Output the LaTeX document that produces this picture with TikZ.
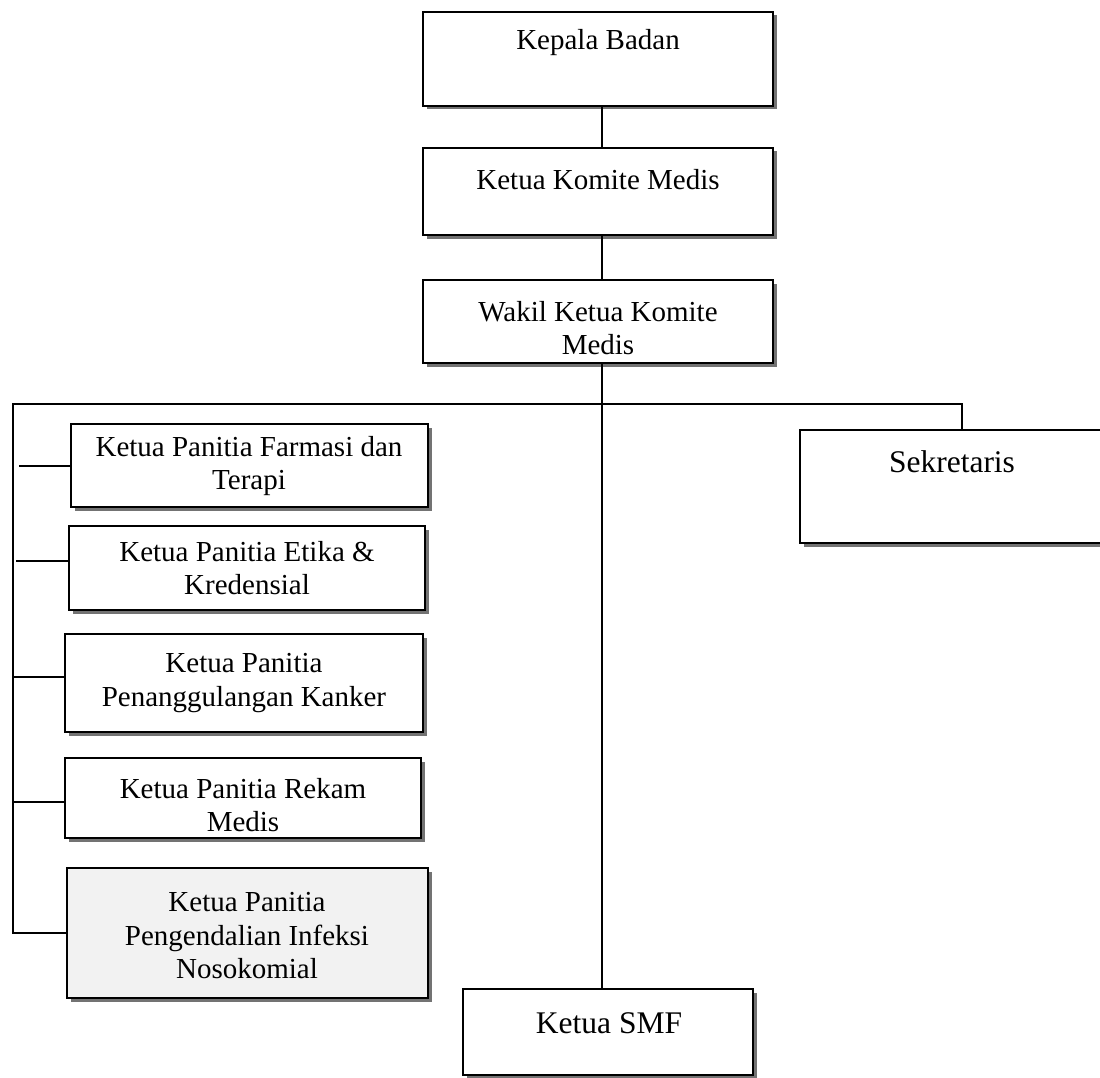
\documentclass[tikz,border=0pt]{standalone}
\usepackage{fontspec}
\setmainfont{Liberation Serif}
\usetikzlibrary{shadows}
\begin{document}
\begin{tikzpicture}[x=1pt,y=-1pt,
  orgbox/.style={draw=black, line width=2.3pt, fill=white, rectangle, inner sep=0pt,
    drop shadow={shadow xshift=3.5pt, shadow yshift=-3.5pt, fill=black!55, opacity=1}},
  boxtext/.style={align=center, inner sep=0pt, font=\fontsize{29}{33.5}\selectfont},
  bigtext/.style={boxtext, font=\fontsize{31.5}{36}\selectfont},
  link/.style={line width=2pt, line cap=rect}]
\useasboundingbox (0,0) rectangle (1100,1078);
\clip (0,0) rectangle (1100,1078);

% boxes
\node[orgbox, minimum width=350pt, minimum height=94pt] (kepala)  at (598,59)    {};
\node[orgbox, minimum width=350pt, minimum height=87pt] (komite)  at (598,191.5) {};
\node[orgbox, minimum width=350pt, minimum height=83pt] (wakil)   at (598,321.5) {};
\node[orgbox, minimum width=304pt, minimum height=113pt] (sekr)   at (952,486.5) {};
\node[orgbox, minimum width=357pt, minimum height=83pt] (farmasi) at (249.5,465.5) {};
\node[orgbox, minimum width=356pt, minimum height=84pt] (etika)   at (247,568)   {};
\node[orgbox, minimum width=358pt, minimum height=98pt] (penang)  at (244,683)   {};
\node[orgbox, minimum width=356pt, minimum height=80pt] (rekam)   at (243,798)   {};
\node[orgbox, minimum width=361pt, minimum height=130pt, fill=black!5] (pengend) at (247.5,933) {};
\node[orgbox, minimum width=290pt, minimum height=86pt] (smf)     at (608,1032)  {};

% labels
\node[boxtext] (kepalaT)  at (598,43)  {Kepala Badan};
\node[boxtext] (komiteT)  at (598,180) {Ketua Komite Medis};
\node[boxtext] (wakilT)   at (598,328) {Wakil Ketua Komite\\Medis};
\node[bigtext] (sekrT)    at (952,462) {Sekretaris};
\node[boxtext] (farmasiT) at (249,466) {Ketua Panitia Farmasi dan\\Terapi};
\node[boxtext] (etikaT)   at (247,568) {Ketua Panitia Etika \&\\Kredensial};
\node[boxtext] (penangT)  at (244,683) {Ketua Panitia\\Penanggulangan Kanker};
\node[boxtext] (rekamT)   at (243,805) {Ketua Panitia Rekam\\Medis};
\node[boxtext] (pengendT) at (247,936) {Ketua Panitia\\Pengendalian Infeksi\\Nosokomial};
\node[bigtext] (smfT)     at (609,1023) {Ketua SMF};

% connector anchors
\coordinate (spine) at (602,0);
\coordinate (busL)  at (13,404);
\coordinate (busR)  at (962,404);
\coordinate (fstub) at (20,466);
\coordinate (estub) at (17,561);
\coordinate (pstub) at (13,677);
\coordinate (rstub) at (13,802);

% connectors
\draw[link] (kepala.south -| spine) -- (komite.north -| spine);
\draw[link] (komite.south -| spine) -- (wakil.north -| spine);
\draw[link] (wakil.south -| spine) -- (smf.north -| spine);
\draw[link] (busL) -- (busR) -- (sekr.north -| busR);
\draw[link] (busL) |- (pengend.west);
\draw[link] (fstub) -- (fstub -| farmasi.west);
\draw[link] (estub) -- (estub -| etika.west);
\draw[link] (pstub) -- (pstub -| penang.west);
\draw[link] (rstub) -- (rstub -| rekam.west);
\end{tikzpicture}
\end{document}
